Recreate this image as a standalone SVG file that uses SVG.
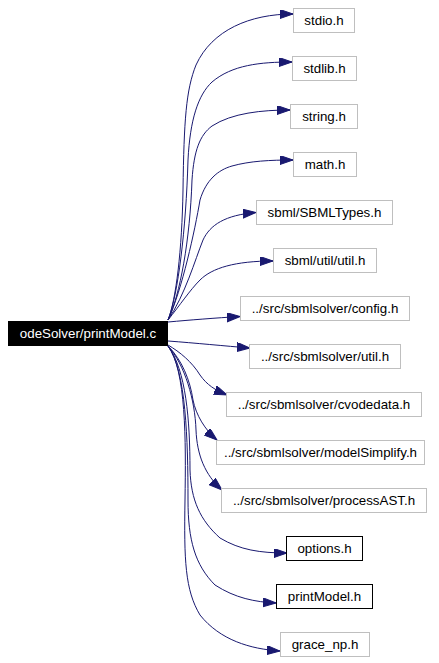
<svg xmlns="http://www.w3.org/2000/svg" width="439" height="663" viewBox="0 0 439 663">
<style>
.n rect{fill:#ffffff;stroke:#bfbfbf;stroke-width:1}
.n.b rect{stroke:#000000}
.n text{font-family:"Liberation Sans",Arial,sans-serif;font-size:13.33px;text-anchor:middle;fill:#000000}
#main rect{fill:#000000;stroke:#000000}
#main text{fill:#ffffff}
#edges path{fill:none;stroke:#191970;stroke-width:1;marker-end:url(#arr)}
</style>
<defs>
<marker id="arr" markerUnits="userSpaceOnUse" markerWidth="14" markerHeight="10" refX="13" refY="4.5" orient="auto">
<path d="M0,0 L13,4.5 L0,9 z" fill="#191970" stroke="#191970" stroke-width="1"/>
</marker>
</defs>
<rect width="439" height="663" fill="#ffffff"/>
<g id="edges">
<path d="M168,320 C176,300 182,250 183,190 C184,120 186,90 196,65 C212,30 250,14 293,14"/>
<path d="M168,320 C178,295 186,230 188,160 C190,120 198,95 212,82 C232,65 260,62 292,62"/>
<path d="M168,320 C180,295 190,240 192,180 C194,150 200,135 212,126 C232,113 262,110 290,110"/>
<path d="M168,320 C182,290 195,230 200,200 C206,180 218,170 232,166 C250,161 270,160 293,160"/>
<path d="M168,320 C185,295 195,260 203,240 C210,225 225,215 256,212.5"/>
<path d="M168,320 C180,305 190,290 200,280 C212,268 235,261 273,261"/>
<path d="M168,322 C190,320 215,318 240,316.5"/>
<path d="M168,341 C195,343 225,346 250,348"/>
<path d="M168,345 C180,352 192,362 200,375 C207,385 215,390 227,395"/>
<path d="M168,346 C182,360 190,380 193,400 C196,415 205,430 217,440"/>
<path d="M168,346 C185,365 195,400 196,430 C197,455 205,475 222,490"/>
<path d="M168,346 C186,370 190,420 190,470 C191,500 200,520 220,538 C240,550 260,553 287,553"/>
<path d="M168,346 C186,370 188,440 188,500 C188,540 195,565 215,585 C235,598 255,602 276,603"/>
<path d="M168,346 C186,370 186,440 185,500 C184,560 185,590 200,615 C220,640 250,649 280,651"/>
</g>
<g id="main" class="n"><rect x="8.5" y="321.5" width="159" height="24"/><text x="88" y="338">odeSolver/printModel.c</text></g>
<g id="n_stdio" class="n"><rect x="293.5" y="8.5" width="61" height="24"/><text x="324" y="25">stdio.h</text></g>
<g id="n_stdlib" class="n"><rect x="292.5" y="56.5" width="64" height="24"/><text x="324.5" y="73">stdlib.h</text></g>
<g id="n_string" class="n"><rect x="290.5" y="104.5" width="67" height="24"/><text x="324" y="121">string.h</text></g>
<g id="n_math" class="n"><rect x="293.5" y="152.5" width="63" height="24"/><text x="325" y="169">math.h</text></g>
<g id="n_sbmltypes" class="n"><rect x="256.5" y="200.5" width="136" height="24"/><text x="324.5" y="217">sbml/SBMLTypes.h</text></g>
<g id="n_sbmlutil" class="n"><rect x="273.5" y="248.5" width="103" height="24"/><text x="325" y="265">sbml/util/util.h</text></g>
<g id="n_config" class="n"><rect x="240.5" y="296.5" width="169" height="24"/><text x="325" y="313">../src/sbmlsolver/config.h</text></g>
<g id="n_util" class="n"><rect x="249.5" y="344.5" width="151" height="24"/><text x="325" y="361">../src/sbmlsolver/util.h</text></g>
<g id="n_cvode" class="n"><rect x="226.5" y="392.5" width="195" height="24"/><text x="324" y="409">../src/sbmlsolver/cvodedata.h</text></g>
<g id="n_simplify" class="n"><rect x="216.5" y="440.5" width="208" height="24"/><text x="320.5" y="457">../src/sbmlsolver/modelSimplify.h</text></g>
<g id="n_process" class="n"><rect x="221.5" y="488.5" width="205" height="24"/><text x="324" y="505">../src/sbmlsolver/processAST.h</text></g>
<g id="n_options" class="n b"><rect x="286.5" y="536.5" width="76" height="24"/><text x="324.5" y="553">options.h</text></g>
<g id="n_printmodel" class="n b"><rect x="276.5" y="584.5" width="96" height="24"/><text x="324.5" y="601">printModel.h</text></g>
<g id="n_grace" class="n"><rect x="280.5" y="632.5" width="89" height="24"/><text x="325" y="649">grace_np.h</text></g>
</svg>
